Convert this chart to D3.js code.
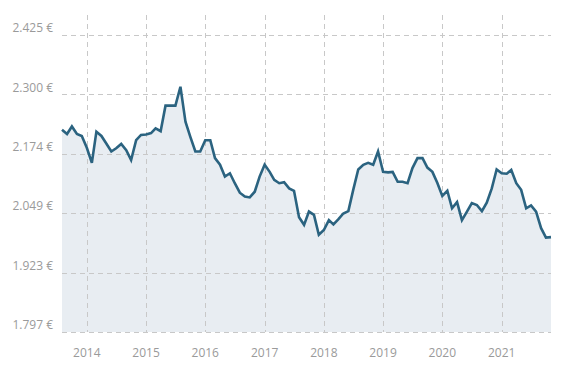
<!DOCTYPE html>
<html>
<head>
<meta charset="utf-8">
<script src="https://cdn.jsdelivr.net/npm/d3@7"></script>
<style>
  html, body { margin: 0; padding: 0; background: #fff; }
  svg { display: block; }
  text { font-family: "Open Sans", "Noto Sans", sans-serif; }
</style>
</head>
<body>
<svg id="chart" width="581" height="387"></svg>
<script>
// Monthly prices from Aug 2013 to Nov 2021
const startMonth = "2013-08";
const prices = [
  2.225, 2.216, 2.232, 2.216, 2.212, 2.187, 2.155, 2.221, 2.212, 2.196,
  2.179, 2.186, 2.195, 2.182, 2.161, 2.203, 2.214, 2.215, 2.218, 2.228,
  2.222, 2.276, 2.276, 2.276, 2.316, 2.242, 2.210, 2.179, 2.179, 2.203,
  2.203, 2.165, 2.151, 2.126, 2.133, 2.112, 2.092, 2.084, 2.082, 2.094,
  2.126, 2.151, 2.136, 2.119, 2.112, 2.114, 2.101, 2.096, 2.040, 2.024,
  2.052, 2.045, 2.003, 2.013, 2.034, 2.025, 2.036, 2.048, 2.053, 2.098,
  2.141, 2.151, 2.155, 2.151, 2.179, 2.136, 2.135, 2.136, 2.115, 2.115,
  2.112, 2.144, 2.165, 2.165, 2.145, 2.136, 2.113, 2.085, 2.096, 2.059,
  2.072, 2.034, 2.052, 2.070, 2.066, 2.053, 2.071, 2.101, 2.141, 2.133,
  2.132, 2.140, 2.112, 2.098, 2.059, 2.065, 2.052, 2.017, 1.997, 1.998
];
const yTicks = [1.7974, 1.9230, 2.0486, 2.1742, 2.2998, 2.4254];
const yTickLabels = ["1.797 €", "1.923 €", "2.049 €", "2.174 €", "2.300 €", "2.425 €"];
const xTickYears = [2014, 2015, 2016, 2017, 2018, 2019, 2020, 2021];

const parse = d3.timeParse("%Y-%m");
const t0 = parse(startMonth);
const data = prices.map((v, i) => ({ date: d3.timeMonth.offset(t0, i), value: v }));

const svg = d3.select("#chart");
const plotLeft = 62, plotRight = 551, plotTop = 15, plotBottom = 332;

const x = d3.scaleTime()
  .domain(d3.extent(data, d => d.date))
  .range([plotLeft, plotRight]);
const y = d3.scaleLinear()
  .domain([yTicks[0], yTicks[yTicks.length - 1]])
  .range([plotBottom, 35]);

// area
const area = d3.area()
  .x(d => x(d.date))
  .y0(plotBottom)
  .y1(d => y(d.value));
svg.append("path")
  .datum(data)
  .attr("d", area)
  .attr("fill", "#e8edf2");

// grid lines
const grid = svg.append("g")
  .attr("stroke", "#c8c8c8")
  .attr("stroke-width", 1)
  .attr("stroke-dasharray", "5,4");

grid.selectAll("line.h")
  .data(yTicks)
  .join("line")
  .attr("class", "h")
  .attr("x1", plotLeft).attr("x2", plotRight)
  .attr("y1", d => Math.round(y(d)) + 0.5)
  .attr("y2", d => Math.round(y(d)) + 0.5);

const yearDates = xTickYears.map(yr => new Date(yr, 0, 1));
grid.selectAll("line.v")
  .data(yearDates)
  .join("line")
  .attr("class", "v")
  .attr("x1", d => Math.round(x(d)) + 0.5)
  .attr("x2", d => Math.round(x(d)) + 0.5)
  .attr("y1", plotTop).attr("y2", plotBottom);

// line
const line = d3.line()
  .x(d => x(d.date))
  .y(d => y(d.value));
svg.append("path")
  .datum(data)
  .attr("d", line)
  .attr("fill", "none")
  .attr("stroke", "#2b6380")
  .attr("stroke-width", 2.6)
  .attr("stroke-linejoin", "miter");

// y labels
svg.append("g")
  .selectAll("text")
  .data(yTicks)
  .join("text")
  .attr("x", 53)
  .attr("y", d => y(d) - 7)
  .attr("dy", "0.35em")
  .attr("text-anchor", "end")
  .attr("fill", "#9a9a9a")
  .attr("font-size", 12)
  .text((d, i) => yTickLabels[i]);

// x labels
svg.append("g")
  .selectAll("text")
  .data(yearDates)
  .join("text")
  .attr("x", d => x(d))
  .attr("y", 353)
  .attr("dy", "0.35em")
  .attr("text-anchor", "middle")
  .attr("fill", "#9a9a9a")
  .attr("font-size", 12)
  .text(d => d.getFullYear());
</script>
</body>
</html>
